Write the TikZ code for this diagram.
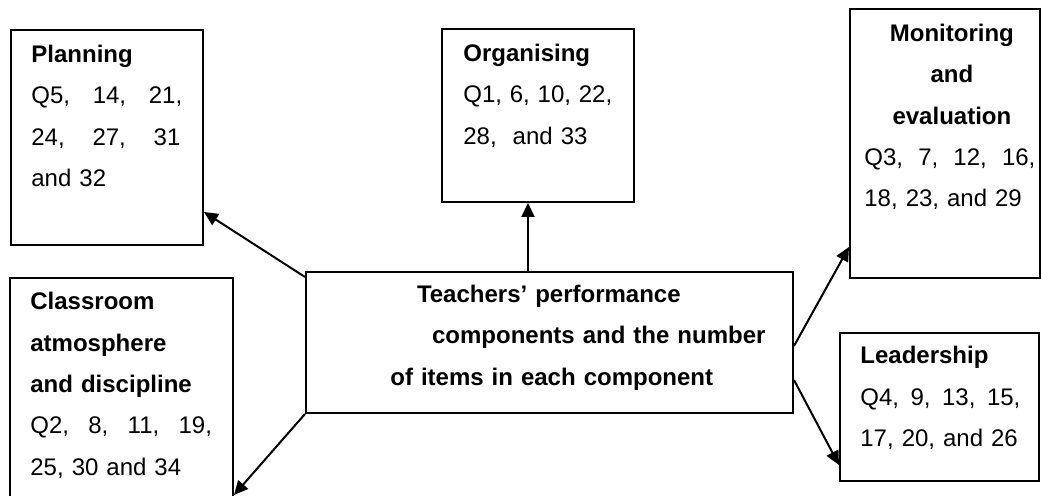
\documentclass[tikz,border=0pt]{standalone}
\usepackage{fontspec}
\setmainfont{Liberation Sans}
\usetikzlibrary{calc,arrows.meta}
\tikzset{
  compbox/.style={draw, line width=1pt, rectangle, inner sep=0pt, anchor=north west},
  boxtext/.style={anchor=base west, inner sep=0pt, text width=#1, align=left,
    font=\fontsize{12}{20.65}\selectfont},
  link/.style={line width=1pt, -{Triangle[length=7pt,width=6.5pt]}},
}
% a line of items spread evenly over a fixed width
\newcommand{\spreadline}[2]{\makebox[#1][l]{#2}}
\begin{document}
\begin{tikzpicture}[x=0.5pt,y=-0.5pt]
\useasboundingbox (0,0) rectangle (1041,496);
\begin{scope}
\clip (0,0) rectangle (1041,496);

% component boxes
\node[compbox, minimum width=96pt,   minimum height=107.5pt] (planning)   at (10,29)  {};
\node[compbox, minimum width=96pt,   minimum height=86.5pt]  (organising) at (441,28) {};
\node[compbox, minimum width=95pt,   minimum height=134.5pt] (monitoring) at (849,8)  {};
\node[compbox, minimum width=111.5pt,minimum height=121.5pt] (classroom)  at (9,277)  {};
\node[compbox, minimum width=243.5pt,minimum height=70.5pt]  (central)    at (305,271) {};
\node[compbox, minimum width=99.5pt, minimum height=74pt]    (leadership) at (839,332) {};

% box texts
\node[boxtext=90pt] (planningtxt) at (31,62.5) {\textbf{Planning}\\
  \spreadline{75.4pt}{Q5,\hfill 14,\hfill 21,}\\
  \spreadline{74.5pt}{24,\hfill 27,\hfill 31}\\
  and 32};

\node[boxtext=90pt] (organisingtxt) at (463,61.7) {\textbf{Organising}\\
  \spreadline{74.4pt}{Q1,\hfill 6,\hfill 10,\hfill 22,}\\
  28,\ \ and 33};

\node[boxtext=90pt] (monitoringtxt) at (864,41.7) {\makebox[87.5pt]{\textbf{Monitoring}}\\
  \makebox[87.5pt]{\textbf{and}}\\
  \makebox[87.5pt]{\textbf{evaluation}}\\
  \spreadline{85.5pt}{Q3,\hfill 7,\hfill 12,\hfill 16,}\\
  18, 23, and 29};

\node[boxtext=105pt] (classroomtxt) at (30,310) {\textbf{Classroom}\\
  \textbf{atmosphere}\\
  \textbf{and discipline}\\
  \spreadline{90.8pt}{Q2,\hfill 8,\hfill 11,\hfill 19,}\\
  25, 30 and 34};

\node[boxtext=200pt] (centraltxt) at (390,302.7) {\bfseries
  \hspace*{13.3pt}Teachers’ performance\\
  \hspace*{20.85pt}components and the number\\
  of items in each component};

\node[boxtext=90pt] (leadershiptxt) at (860,364) {\textbf{Leadership}\\
  \spreadline{80pt}{Q4,\hfill 9,\hfill 13,\hfill 15,}\\
  17, 20, and 26};

% connectors from the central box
\draw[link] ($(central.north west)+(0,6)$) -- ($(planning.south east)+(0,-34)$);
\draw[link] ($(central.north)+(-21.5,0)$) -- ($(organising.south)+(-10,0)$);
\draw[link] ($(central.east)+(0,3.5)$) -- ($(monitoring.south west)+(0,-32)$);
\draw[link] (central.south west) -- ($(classroom.north east)+(0,218)$);
\draw[link] ($(central.south east)+(0,-34)$) -- ($(leadership.south west)+(0,-17)$);
\end{scope}
\end{tikzpicture}
\end{document}
